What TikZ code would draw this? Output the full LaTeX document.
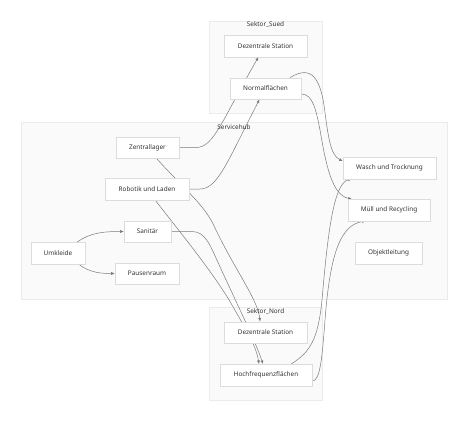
\documentclass[tikz,border=0pt]{standalone}
\usepackage{fontspec}
\setmainfont{Noto Sans}
\usetikzlibrary{arrows.meta,positioning,calc}
\definecolor{edgegray}{HTML}{7A7A7A}
\definecolor{tipgray}{HTML}{444444}
\definecolor{boxline}{HTML}{DCDCDC}
\definecolor{clusterfill}{HTML}{FAFAFA}
\definecolor{clusterline}{HTML}{EBEBEB}
\definecolor{textgray}{HTML}{333333}
\pgfdeclarelayer{back}
\pgfdeclarelayer{mid}
\pgfsetlayers{back,mid,main}

\begin{document}
\begin{tikzpicture}[
  x=1pt,y=-1pt,
  >={Latex[length=3.6pt,width=3pt]},
  box/.style={draw=boxline,fill=white,minimum height=21.5pt,inner sep=0pt,text=textgray,font=\fontsize{6.4}{7.5}\selectfont},
  cluster/.style={draw=clusterline,fill=clusterfill,inner sep=0pt},
  clabel/.style={text=textgray,font=\fontsize{6.4}{7.5}\selectfont,inner sep=0pt},
  edge/.style={->,draw=edgegray,line width=0.5pt}
]
  \useasboundingbox (0,0) rectangle (467,429);

  \begin{pgfonlayer}{back}
    \node[cluster,minimum width=113pt,minimum height=92pt] (sued) at (265.5,67) {};
    \node[cluster,minimum width=426pt,minimum height=177pt] (hub) at (234,210.5) {};
    \node[cluster,minimum width=113pt,minimum height=93pt] (nord) at (265.5,353.5) {};
  \end{pgfonlayer}
  \node[clabel] (sued-l) at (265.5,25) {Sektor\_Sued};
  \node[clabel] (hub-l) at (234,127) {Servicehub};
  \node[clabel] (nord-l) at (265.5,312) {Sektor\_Nord};

  \node[box,minimum width=83pt] (DSs) at (265.5,46) {Dezentrale Station};
  \node[box,minimum width=71pt] (Ns) at (265.5,88.5) {Normalflächen};
  \node[box,minimum width=63pt] (Zl) at (147.5,147.5) {Zentrallager};
  \node[box,minimum width=84pt] (Rb) at (147,189) {Robotik und Laden};
  \node[box,minimum width=47pt] (Sn) at (147.5,231.5) {Sanitär};
  \node[box,minimum width=54pt] (Uk) at (58,253) {Umkleide};
  \node[box,minimum width=64pt] (Pr) at (147,273.5) {Pausenraum};
  \node[box,minimum width=93pt] (Wt) at (389.5,168) {Wasch und Trocknung};
  \node[box,minimum width=82pt] (Mr) at (389,210) {Müll und Recycling};
  \node[box,minimum width=67pt] (Ol) at (388.5,253) {Objektleitung};
  \node[box,minimum width=83pt] (DSn) at (265.5,332.5) {Dezentrale Station};
  \node[box,minimum width=92pt] (Hf) at (266,375) {Hochfrequenzflächen};

  \begin{pgfonlayer}{mid}
    \draw[edge] (Uk.north east) ++(-8,0) .. controls (90,233) and (102,231.5) .. (Sn.west);
    \draw[edge] (Uk.south east) ++(-7,0) .. controls (90,273) and (102,273.5) .. (Pr.west);
    \draw[edge] (Zl.east) -- (196,147.5) .. controls (214,147.5) and (222,120) .. ([xshift=-7pt]DSs.south);
    \draw[edge] (Rb.east) -- (200,189) .. controls (218,189) and (228,160) .. ([xshift=-6pt]Ns.south);
    \draw[edge] ([xshift=9pt]Zl.south) .. controls (185,190) and (205,205) .. (215,228)
      .. controls (235,270) and (258,300) .. ([xshift=-5.5pt]DSn.north);
    \draw[edge] ([xshift=8pt]Rb.south) .. controls (180,232) and (215,275) .. (232,305)
      .. controls (245,328) and (256,345) .. ([xshift=-7pt]Hf.north);
    \draw[edge] (Sn.east) -- (192,231.5) .. controls (205,231.5) and (210,245) .. (216,258)
      .. controls (235,300) and (255,340) .. ([xshift=-3pt]Hf.north);
    \draw[edge] ([xshift=-11pt]Ns.north east) .. controls (312,64) and (320,80) .. (324,105)
      .. controls (328,135) and (330,155) .. ([yshift=-4pt]Wt.north west);
    \draw[edge] ([yshift=-5.5pt]Ns.east) .. controls (313,94) and (316,110) .. (320,130)
      .. controls (326,165) and (332,195) .. ([xshift=4pt]Mr.north west);
    \draw[edge] ([xshift=-21pt]Hf.north east) .. controls (310,352) and (318,340) .. (322,300)
      .. controls (328,230) and (334,183) .. ([xshift=9pt]Wt.south west);
    \draw[edge] ([yshift=-6pt]Hf.east) .. controls (320,381) and (322,360) .. (325,320)
      .. controls (330,255) and (340,225) .. ([xshift=18pt]Mr.south west);
  \end{pgfonlayer}
\end{tikzpicture}
\end{document}
